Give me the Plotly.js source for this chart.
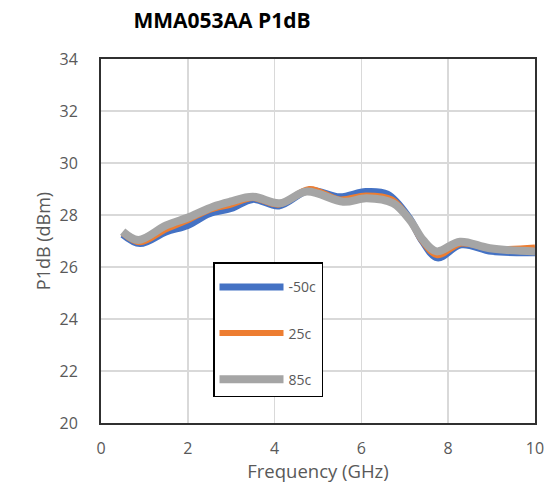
<!DOCTYPE html>
<html>
<head>
<meta charset="utf-8">
<script src="https://cdn.plot.ly/plotly-3.0.1.min.js"></script>
<style>html,body{margin:0;padding:0;background:#fff;}#chart{width:552px;height:483px;}</style>
</head>
<body>
<div id="chart"></div>
<script>
// Data
const freqBlue   = [0.5, 0.9, 1.5, 2.0, 2.5, 3.0, 3.5, 4.1, 4.8, 5.5, 6.1, 6.6, 7.1, 7.4, 7.75, 8.3, 9.0, 10.0];
const blueP1dB   = [27.25, 26.9, 27.35, 27.6, 28.05, 28.25, 28.6, 28.35, 28.95, 28.7, 28.9, 28.8, 27.9, 27.0, 26.35, 26.85, 26.6, 26.55];
const freqOrange = [0.5, 0.9, 1.5, 2.0, 2.5, 3.0, 3.5, 4.1, 4.8, 5.5, 6.1, 6.7, 7.1, 7.4, 7.75, 8.3, 9.0, 10.0];
const orangeP1dB = [27.3, 26.95, 27.45, 27.8, 28.2, 28.4, 28.65, 28.4, 29.0, 28.6, 28.75, 28.6, 27.85, 27.0, 26.45, 26.9, 26.7, 26.75];
const freqGray   = [0.5, 0.86, 1.5, 2.05, 2.58, 2.97, 3.5, 4.12, 4.74, 5.58, 6.12, 6.73, 7.12, 7.42, 7.73, 8.27, 8.96, 10.0];
const grayP1dB   = [27.36, 27.04, 27.6, 27.93, 28.32, 28.51, 28.7, 28.45, 28.9, 28.51, 28.64, 28.45, 27.8, 27.04, 26.6, 26.97, 26.72, 26.6];
const seriesNames = ['-50c', '25c', '85c'];
const xTicks = [0, 2, 4, 6, 8, 10];
const yTicks = [20, 22, 24, 26, 28, 30, 32, 34];

const traces = [
  {x: freqBlue, y: blueP1dB, name: seriesNames[0], color: '#4472C4', w: 7},
  {x: freqOrange, y: orangeP1dB, name: seriesNames[1], color: '#ED7D31', w: 6},
  {x: freqGray, y: grayP1dB, name: seriesNames[2], color: '#A5A5A5', w: 8}
].map((s, i) => ({
  type: 'scatter', mode: 'lines', x: s.x, y: s.y, name: s.name,
  legendgroup: 'g' + i,
  line: {color: s.color, width: s.w, shape: 'spline', smoothing: 1}
}));

const fam = 'Open Sans, Liberation Sans, sans-serif';
const tickFont = {family: fam, size: 16, color: '#595959'};

const layout = {
  width: 552, height: 483,
  margin: {l: 101, r: 17, t: 59, b: 60, autoexpand: false},
  paper_bgcolor: '#fff', plot_bgcolor: '#fff',
  showlegend: true,
  title: {text: '<b>MMA053AA P1dB</b>', x: 222/552, xanchor: 'center', xref: 'container', y: 1 - 21/483, yanchor: 'middle', yref: 'container',
          font: {family: fam, size: 21, color: '#000'}},
  xaxis: {range: [0, 10], tickvals: xTicks, showgrid: true, gridcolor: '#d9d9d9', gridwidth: 1.5,
          zeroline: false, showline: true, mirror: true, linecolor: '#303030', linewidth: 2,
          ticks: '', ticklabelstandoff: 10, tickfont: tickFont,
          title: {text: 'Frequency (GHz)', font: {family: fam, size: 18.5, color: '#595959'}, standoff: 3}},
  yaxis: {range: [20, 34], tickvals: yTicks, showgrid: true, gridcolor: '#d9d9d9', gridwidth: 1.5,
          zeroline: false, showline: true, mirror: true, linecolor: '#303030', linewidth: 2,
          ticks: '', ticklabelstandoff: 18, tickfont: tickFont,
          title: {text: 'P1dB (dBm)', font: {family: fam, size: 18, color: '#595959'}, standoff: 4}},
  legend: {x: 112/434, xref: 'paper', xanchor: 'left', y: 161/364, yref: 'paper', yanchor: 'top',
           bgcolor: '#fff', bordercolor: '#000', borderwidth: 1.5,
           traceorder: 'grouped', tracegroupgap: 25, itemwidth: 64,
           entrywidth: 144, entrywidthmode: 'pixels',
           title: {text: ' ', font: {size: 6}},
           font: {family: fam, size: 14, color: '#595959'}}
};

Plotly.newPlot('chart', traces, layout, {displayModeBar: false, staticPlot: true});
</script>
</body>
</html>
